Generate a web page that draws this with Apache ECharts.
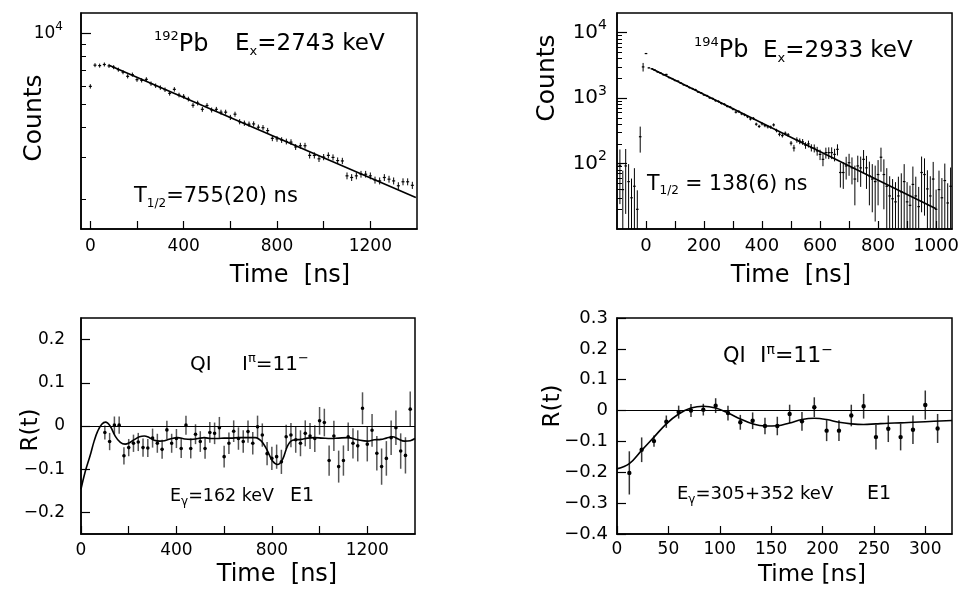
<!DOCTYPE html>
<html><head><meta charset="utf-8">
<script src="https://cdn.jsdelivr.net/npm/echarts@6/dist/echarts.min.js"></script>
<style>html,body{margin:0;padding:0;background:#fff}#c{width:962px;height:590px}</style>
</head><body><div id="c"></div>
<script>
// ---------- Panel 1: 192Pb decay curve ----------
const p1Time = [0,20,40,60,80,100,120,140,160,180,200,220,240,260,280,300,320,340,360,380,400,420,440,460,480,500,520,540,560,580,600,620,640,660,680,700,720,740,760,780,800,820,840,860,880,900,920,940,960,980,1000,1020,1040,1060,1080,1100,1120,1140,1160,1180,1200,1220,1240,1260,1280,1300,1320,1340,1360,1380];
const p1Counts = [5970,7330,7300,7380,7280,7190,7020,6850,6580,6690,6370,6330,6390,6130,6010,5900,5780,5580,5800,5490,5420,5280,4970,5080,4780,4960,4750,4780,4650,4650,4420,4560,4240,4180,4140,4150,4020,4000,3890,3610,3590,3550,3500,3480,3320,3360,3360,3060,3060,2960,3010,3060,3000,2910,2900,2510,2470,2510,2550,2550,2510,2410,2390,2470,2430,2390,2280,2370,2370,2290];
const p1Err = [127,141,141,142,141,140,138,137,134,135,132,131,132,129,128,127,125,123,126,122,121,120,116,118,114,116,114,114,112,112,110,111,107,107,106,106,105,104,103,99,99,98,98,97,95,96,96,91,91,90,91,91,90,89,89,83,82,83,83,83,83,81,81,82,81,81,79,80,80,79];
const p1FitTime = [80,1395];
const p1FitCounts = [7330,2037];
const p1XTicks = [0,200,400,600,800,1000,1200];
const p1XLabels = [0,400,800,1200];
const p1YMajor = [10000];
const p1YMinor = [2000,3000,4000,5000,6000,7000,8000,9000];

// ---------- Panel 2: 194Pb decay curve ----------
const p2Time = [-90,-80,-70,-60,-50,-40,-30,-20,-10,0,10,20,30,40,50,60,70,80,90,100,110,120,130,140,150,160,170,180,190,200,210,220,230,240,250,260,270,280,290,300,310,320,330,340,350,360,370,380,390,400,410,420,430,440,450,460,470,480,490,500,510,520,530,540,550,560,570,580,590,600,610,620,630,640,650,660,670,680,690,700,710,720,730,740,750,760,770,780,790,800,810,820,830,840,850,860,870,880,890,900,910,920,930,940,950,960,970,980,990,1000,1010,1020,1030,1040,1050];
const p2Counts = [94,40,92,53,30,45,20,257,3000,4800,2900,2810,2680,2520,2420,2280,2300,2060,1990,1860,1820,1700,1600,1550,1450,1400,1350,1240,1200,1120,1090,1010,985,915,890,830,805,750,730,680,610,625,575,555,520,480,490,400,370,405,380,365,360,390,320,280,268,290,275,205,173,230,220,215,190,200,175,172,156,138,116,147,147,147,138,165,73,73,92,103,86,58,92,86,116,86,65,58,53,68,125,68,45,32,29,26,32,37,53,26,23,48,32,22,73,68,41,32,58,20,40,30,55,25,45];
const p2Err = [70,38,75,45,29,40,19,110,450,80,60,58,57,55,54,52,52,50,49,47,47,45,44,43,42,41,40,39,38,37,36,35,34,33,33,32,31,30,30,29,27,28,26,26,25,24,25,22,21,22,21,21,21,22,20,19,18,19,18,16,20,22,22,22,22,24,22,24,24,25,25,28,30,30,30,32,30,32,35,38,38,35,40,42,45,45,42,40,40,45,50,48,40,32,29,26,31,34,45,26,23,42,31,22,55,52,38,32,48,20,38,30,45,25,42];
const p2FitTime = [20,1000];
const p2FitCounts = [2803,20.4];
const p2XTicks = [0,100,200,300,400,500,600,700,800,900,1000];
const p2XLabels = [0,200,400,600,800,1000];
const p2YMajor = [100,1000,10000];
const p2YMinor = [20,30,40,50,60,70,80,90,200,300,400,500,600,700,800,900,2000,3000,4000,5000,6000,7000,8000,9000];

// ---------- Panel 3: R(t), 162 keV ----------
const p3Time = [100,120,140,160,180,200,220,240,260,280,300,320,340,360,380,400,420,440,460,480,500,520,540,560,580,600,620,640,660,680,700,720,740,760,780,800,820,840,860,880,900,920,940,960,980,1000,1020,1040,1060,1080,1100,1120,1140,1160,1180,1200,1220,1240,1260,1280,1300,1320,1340,1360,1380];
const p3R = [-0.015,-0.036,0.002,0.002,-0.069,-0.050,-0.040,-0.037,-0.050,-0.051,-0.028,-0.040,-0.054,-0.009,-0.040,-0.029,-0.052,0.002,-0.052,-0.019,-0.036,-0.052,-0.015,-0.017,-0.004,-0.071,-0.040,-0.012,-0.029,-0.036,-0.013,-0.040,-0.002,-0.021,-0.064,-0.075,-0.071,-0.083,-0.025,-0.021,-0.032,-0.040,-0.017,-0.023,-0.029,0.012,0.008,-0.080,-0.023,-0.094,-0.080,-0.025,-0.040,-0.046,0.041,-0.042,-0.010,-0.063,-0.094,-0.075,-0.027,-0.004,-0.058,-0.068,0.039];
const p3Err = [0.016,0.02,0.02,0.02,0.02,0.02,0.02,0.021,0.021,0.021,0.022,0.022,0.022,0.021,0.022,0.022,0.022,0.022,0.023,0.023,0.024,0.024,0.024,0.025,0.025,0.025,0.025,0.025,0.026,0.026,0.026,0.026,0.026,0.027,0.027,0.027,0.028,0.028,0.028,0.028,0.03,0.03,0.03,0.03,0.031,0.032,0.032,0.035,0.035,0.037,0.035,0.033,0.035,0.036,0.037,0.04,0.038,0.04,0.042,0.04,0.04,0.04,0.041,0.042,0.041];
const p3FitTime = [0,17,38,55,70,87,103,122,143,165,185,205,225,245,265,287,307,330,350,380,405,435,461,490,517,545,573,600,629,660,700,730,745,761,782,803,824,845,866,887,922,950,978,1010,1048,1080,1118,1160,1201,1230,1257,1280,1306,1330,1355,1380,1400];
const p3FitR = [-0.146,-0.107,-0.069,-0.035,-0.012,0.004,0.009,0.0,-0.023,-0.038,-0.042,-0.038,-0.031,-0.025,-0.023,-0.027,-0.033,-0.035,-0.034,-0.029,-0.027,-0.030,-0.031,-0.029,-0.027,-0.029,-0.029,-0.028,-0.028,-0.027,-0.027,-0.027,-0.030,-0.038,-0.058,-0.081,-0.089,-0.077,-0.046,-0.033,-0.031,-0.028,-0.027,-0.028,-0.029,-0.028,-0.027,-0.032,-0.035,-0.032,-0.031,-0.028,-0.025,-0.030,-0.035,-0.034,-0.029];
const p3XTicks = [0,200,400,600,800,1000,1200];
const p3XLabels = [0,400,800,1200];
const p3YTicks = [-0.2,-0.1,0,0.1,0.2];

// ---------- Panel 4: R(t), 305+352 keV ----------
const p4Time = [12,24,36,48,60,72,84,96,108,120,132,144,156,168,180,192,204,216,228,240,252,264,276,288,300,312];
const p4R = [-0.202,-0.127,-0.099,-0.036,-0.005,0.0,0.003,0.016,-0.008,-0.038,-0.033,-0.050,-0.050,-0.011,-0.035,0.011,-0.065,-0.065,-0.016,0.014,-0.086,-0.059,-0.086,-0.062,0.018,-0.058];
const p4Err = [0.07,0.04,0.018,0.02,0.021,0.021,0.019,0.024,0.024,0.024,0.027,0.027,0.03,0.03,0.03,0.032,0.034,0.034,0.035,0.04,0.04,0.043,0.043,0.046,0.047,0.047];
const p4FitTime = [0,12,24,36,48,60,72,84,96,108,120,132,144,156,168,180,192,204,216,228,240,252,264,276,288,300,326];
const p4FitR = [-0.189,-0.172,-0.129,-0.086,-0.043,-0.011,0.008,0.014,0.008,-0.008,-0.027,-0.043,-0.050,-0.049,-0.040,-0.029,-0.025,-0.029,-0.038,-0.043,-0.045,-0.043,-0.041,-0.040,-0.038,-0.036,-0.032];
const p4XTicks = [0,50,100,150,200,250,300];
const p4YTicks = [-0.4,-0.3,-0.2,-0.1,0,0.1,0.2,0.3];

// ---------- helpers ----------
const FONT = "'DejaVu Sans', 'Liberation Sans', Arial, sans-serif";
const BLACK = '#000';
const zip3 = (a,b,c) => a.map((v,i)=>[v,b[i],c[i]]);
const zip2 = (a,b) => a.map((v,i)=>[v,b[i]]);

function gridCfg(l,t,w,h){return {left:l,top:t,width:w,height:h,show:true,borderColor:BLACK,borderWidth:1.5,containLabel:false};}

function xAxisCfg(gi,min,max,ticks,labels,fs,margin){
  return {type:'value',gridIndex:gi,min:min,max:max,position:'bottom',
    axisLine:{show:true,onZero:false,lineStyle:{color:BLACK,width:1.5}},
    axisTick:{show:true,inside:true,length:8,customValues:ticks,lineStyle:{color:BLACK,width:1.2}},
    axisLabel:{customValues:labels,formatter:v=>String(v),color:BLACK,fontSize:fs,fontFamily:FONT,margin:margin},
    splitLine:{show:false}};
}
const powFmt = v => '{b|10}{s|' + Math.round(Math.log10(v)) + '}';
function yLogCfg(gi,min,max,major,fs,sfs,margin){
  return {type:'log',logBase:10,gridIndex:gi,min:min,max:max,position:'left',
    axisLine:{show:true,onZero:false,lineStyle:{color:BLACK,width:1.5}},
    axisTick:{show:true,inside:true,length:10,customValues:major,lineStyle:{color:BLACK,width:1.2}},
    axisLabel:{customValues:major,formatter:powFmt,color:BLACK,fontFamily:FONT,margin:margin,
      rich:{b:{fontSize:fs,fontFamily:FONT,color:BLACK,lineHeight:fs+8},
            s:{fontSize:sfs,fontFamily:FONT,color:BLACK,verticalAlign:'top',lineHeight:fs+8}}},
    splitLine:{show:false},minorTick:{show:false}};
}
function yLogMinorCfg(gi,min,max,minor){
  return {type:'log',logBase:10,gridIndex:gi,min:min,max:max,position:'left',offset:0,
    axisLine:{show:false,onZero:false},
    axisTick:{show:true,inside:true,length:5,customValues:minor,lineStyle:{color:BLACK,width:1}},
    axisLabel:{show:false},splitLine:{show:false}};
}
const linFmt = v => Math.abs(v) < 1e-9 ? '0' : (v < 0 ? '\u2212' : '') + Math.abs(v).toFixed(1);
function yLinCfg(gi,min,max,ticks,fs,margin){
  return {type:'value',gridIndex:gi,min:min,max:max,position:'left',
    axisLine:{show:true,onZero:false,lineStyle:{color:BLACK,width:1.5}},
    axisTick:{show:true,inside:true,length:9,customValues:ticks,lineStyle:{color:BLACK,width:1.2}},
    axisLabel:{customValues:ticks,formatter:linFmt,color:BLACK,fontSize:fs,fontFamily:FONT,margin:margin},
    splitLine:{show:false}};
}
function errRender(ymin, dotR, barColor, barW, tickHalf){
  return function(params, api){
    const x = api.value(0), y = api.value(1), e = api.value(2);
    let lo = y - e; if (lo < ymin) lo = ymin;
    const hi = y + e;
    const pc = api.coord([x,y]), pl = api.coord([x,lo]), ph = api.coord([x,hi]);
    const ch = [{type:'line',shape:{x1:pc[0],y1:pl[1],x2:pc[0],y2:ph[1]},style:{stroke:barColor,lineWidth:barW}}];
    if (dotR > 0) ch.push({type:'circle',shape:{cx:pc[0],cy:pc[1],r:dotR},style:{fill:BLACK}});
    else ch.push({type:'line',shape:{x1:pc[0]-tickHalf,y1:pc[1],x2:pc[0]+tickHalf,y2:pc[1]},style:{stroke:BLACK,lineWidth:1.2}});
    return {type:'group',children:ch};
  };
}
function txt(x,y,text,fs,sfs){
  const small = sfs || Math.round(fs*0.62);
  return {type:'text',x:x,y:y,silent:true,style:{text:text,fill:BLACK,fontSize:fs,fontFamily:FONT,
    align:'left',verticalAlign:'middle',textAlign:'left',textVerticalAlign:'middle',
    rich:{sup:{fontSize:small,fontFamily:FONT,fill:BLACK,verticalAlign:'top',lineHeight:fs+5},
          sub:{fontSize:small,fontFamily:FONT,fill:BLACK,verticalAlign:'bottom',lineHeight:fs+5}}}};
}
function ctxt(x,y,text,fs,rot){
  return {type:'text',x:x,y:y,rotation:rot||0,silent:true,style:{text:text,fill:BLACK,fontSize:fs,fontFamily:FONT,
    align:'center',verticalAlign:'middle',textAlign:'center',textVerticalAlign:'middle'}};
}
const zeroLine = {silent:true,symbol:'none',label:{show:false},lineStyle:{color:BLACK,width:1,type:'solid'},data:[{yAxis:0}]};

const option = {
  animation:false,
  backgroundColor:'#fff',
  textStyle:{fontFamily:FONT},
  grid:[gridCfg(81,13,336,216),gridCfg(617,13,336,216),gridCfg(81,318,334,216),gridCfg(617,318,335,216)],
  xAxis:[
    xAxisCfg(0,-40,1400,p1XTicks,p1XLabels,17,9),
    xAxisCfg(1,-100,1055,p2XTicks,p2XLabels,18,8),
    xAxisCfg(2,0,1400,p3XTicks,p3XLabels,17,8),
    xAxisCfg(3,0,326,p4XTicks,p4XTicks,17,7)
  ],
  yAxis:[
    yLogCfg(0,1500,12150,p1YMajor,17,12,18),
    yLogMinorCfg(0,1500,12150,p1YMinor),
    yLogCfg(1,10,20000,p2YMajor,20,14,10),
    yLogMinorCfg(1,10,20000,p2YMinor),
    yLinCfg(2,-0.25,0.25,p3YTicks,17,16),
    yLinCfg(3,-0.4,0.3,p4YTicks,18,9)
  ],
  series:[
    {type:'custom',xAxisIndex:0,yAxisIndex:0,clip:true,silent:true,data:zip3(p1Time,p1Counts,p1Err),
      encode:{x:0,y:1},renderItem:errRender(1500,0,BLACK,1,1.5)},
    {type:'line',xAxisIndex:0,yAxisIndex:0,silent:true,showSymbol:false,data:zip2(p1FitTime,p1FitCounts),
      lineStyle:{color:BLACK,width:1.6}},
    {type:'custom',xAxisIndex:1,yAxisIndex:2,clip:true,silent:true,data:zip3(p2Time,p2Counts,p2Err),
      encode:{x:0,y:1},renderItem:errRender(10,0,BLACK,1,1.3)},
    {type:'line',xAxisIndex:1,yAxisIndex:2,silent:true,showSymbol:false,data:zip2(p2FitTime,p2FitCounts),
      lineStyle:{color:BLACK,width:1.6}},
    {type:'line',xAxisIndex:2,yAxisIndex:4,silent:true,showSymbol:false,smooth:0.4,data:zip2(p3FitTime,p3FitR),
      lineStyle:{color:BLACK,width:1.6},markLine:zeroLine},
    {type:'custom',xAxisIndex:2,yAxisIndex:4,clip:true,silent:true,data:zip3(p3Time,p3R,p3Err),
      encode:{x:0,y:1},renderItem:errRender(-10,1.8,'#555',1.5,0)},
    {type:'line',xAxisIndex:3,yAxisIndex:5,silent:true,showSymbol:false,smooth:0.4,data:zip2(p4FitTime,p4FitR),
      lineStyle:{color:BLACK,width:1.6},markLine:zeroLine},
    {type:'custom',xAxisIndex:3,yAxisIndex:5,clip:true,silent:true,data:zip3(p4Time,p4R,p4Err),
      encode:{x:0,y:1},renderItem:errRender(-10,2.2,'#333',1.5,0)}
  ],
  graphic:[
    txt(154,44.5,'{sup|192}Pb',24,13),
    txt(235,44.5,'E{sub|x}=2743 keV',23,13),
    txt(134,196.5,'T{sub|1/2}=755(20) ns',21,12),
    txt(694,51,'{sup|194}Pb',24,13),
    txt(763,51,'E{sub|x}=2933 keV',23,13),
    txt(647,184.5,'T{sub|1/2} = 138(6) ns',20.5,12),
    txt(190,365,'QI',20),
    txt(242,365,'I{sup|\u03c0}=11{sup|\u2212}',20,13),
    txt(170,496.5,'E{sub|\u03b3}=162 keV',17.5,12),
    txt(290,496.5,'E1',19),
    txt(723,356.5,'QI',21),
    txt(760,356.5,'I{sup|\u03c0}=11{sup|\u2212}',22,14),
    txt(677,494.5,'E{sub|\u03b3}=305+352 keV',18,12),
    txt(867,494.5,'E1',19),
    ctxt(290,276,'Time  [ns]',24),
    ctxt(791,276,'Time  [ns]',24),
    ctxt(277,575,'Time  [ns]',24),
    ctxt(812,575,'Time [ns]',23),
    ctxt(34,118,'Counts',25,Math.PI/2),
    ctxt(547,78,'Counts',25,Math.PI/2),
    ctxt(31,430,'R(t)',23,Math.PI/2),
    ctxt(553,406,'R(t)',23,Math.PI/2)
  ]
};
const chart = echarts.init(document.getElementById('c'));
chart.setOption(option);
</script>
</body></html>
